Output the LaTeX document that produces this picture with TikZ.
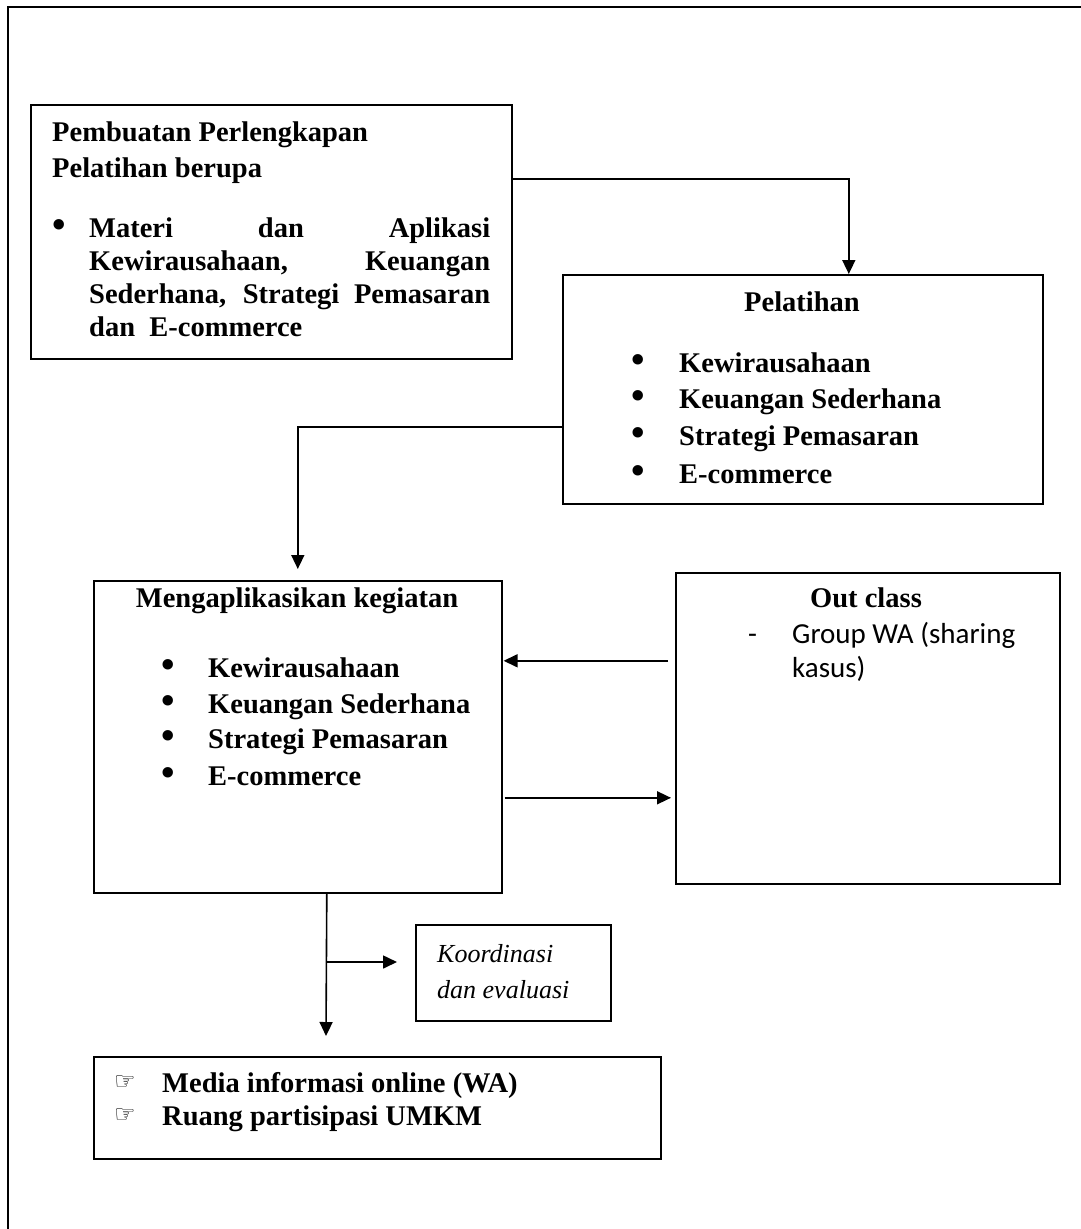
\documentclass[tikz,border=0pt]{standalone}
\usepackage{fontspec}
\setmainfont{Liberation Serif}
\newfontfamily\calfont{Carlito}
\newfontfamily\symfont{DejaVu Sans}
\usetikzlibrary{arrows.meta}
\newcommand{\bul}{\scalebox{1.35}{•}}
\tikzset{
  box/.style={draw, line width=1.6pt, inner sep=0pt, anchor=north west},
  txt/.style={inner sep=0pt, anchor=base west, font=\fontsize{28.5}{33}\selectfont\bfseries},
  ctxt/.style={inner sep=0pt, anchor=base, font=\fontsize{28.5}{33}\selectfont\bfseries},
  arr/.style={line width=1.6pt, -{Triangle[length=14pt,width=13pt]}},
  hand/.style={inner sep=0pt, anchor=base west, font=\fontsize{24}{28}\symfont}
}
\begin{document}
\begin{tikzpicture}[x=1pt,y=-1pt]
\useasboundingbox (0,0) rectangle (1081,1229);
% outer frame (cut off at right and bottom)
\draw[line width=2.4pt] (8,1229) -- (8,7) -- (1081,7);

% boxes
\node[box, minimum width=481pt, minimum height=254pt] (b1) at (30,104) {};
\node[box, minimum width=480pt, minimum height=229pt] (b2) at (562,274) {};
\node[box, minimum width=408pt, minimum height=312pt] (b3) at (93,580) {};
\node[box, minimum width=384pt, minimum height=311pt] (b4) at (675,572) {};
\node[box, minimum width=195pt, minimum height=96pt] (ko) at (415,924) {};
\node[box, minimum width=567pt, minimum height=102pt] (b5) at (93,1056) {};

% box 1 text
\node[txt] (t11) at (52,141) {Pembuatan Perlengkapan};
\node[txt] (t12) at (52,177) {Pelatihan berupa};
\node[txt] (t13) at (52,237) {\bul};
\node[txt] (t14) at (89,237) {\makebox[401pt][s]{Materi dan Aplikasi}};
\node[txt] (t15) at (89,270) {\makebox[401pt][s]{Kewirausahaan, Keuangan}};
\node[txt] (t16) at (89,303) {\makebox[401pt][s]{Sederhana, Strategi Pemasaran}};
\node[txt] (t17) at (89,336) {dan\ \ E-commerce};

% box 2 text
\node[ctxt] (t21) at (802,311) {Pelatihan};
\node[txt] (t22) at (631,372) {\bul};
\node[txt] (t23) at (679,372) {Kewirausahaan};
\node[txt] (t24) at (631,408) {\bul};
\node[txt] (t25) at (679,408) {Keuangan Sederhana};
\node[txt] (t26) at (631,445) {\bul};
\node[txt] (t27) at (679,445) {Strategi Pemasaran};
\node[txt] (t28) at (631,483) {\bul};
\node[txt] (t29) at (679,483) {E-commerce};

% box 3 text
\node[ctxt] (t31) at (297,607) {Mengaplikasikan kegiatan};
\node[txt] (t32) at (161,677) {\bul};
\node[txt] (t33) at (208,677) {Kewirausahaan};
\node[txt] (t34) at (161,713) {\bul};
\node[txt] (t35) at (208,713) {Keuangan Sederhana};
\node[txt] (t36) at (161,748) {\bul};
\node[txt] (t37) at (208,748) {Strategi Pemasaran};
\node[txt] (t38) at (161,785) {\bul};
\node[txt] (t39) at (208,785) {E-commerce};

% box 4 text
\node[txt] (t41) at (810,607) {Out class};
\node[txt, font=\fontsize{29}{34}\calfont] (t42) at (748,643) {-};
\node[txt, font=\fontsize{29}{34}\calfont] (t43) at (792,643) {Group WA (sharing};
\node[txt, font=\fontsize{29}{34}\calfont] (t44) at (792,677) {kasus)};

% koordinasi text
\node[txt, font=\fontsize{26}{30}\selectfont\itshape] (tk1) at (437,962) {Koordinasi};
\node[txt, font=\fontsize{26}{30}\selectfont\itshape] (tk2) at (437,998) {dan evaluasi};

% box 5 text
\node[hand] (t51) at (114,1089) {☞};
\node[txt] (t52) at (162,1092) {Media informasi online (WA)};
\node[hand] (t53) at (114,1122) {☞};
\node[txt] (t54) at (162,1125) {Ruang partisipasi UMKM};

% connectors
\draw[arr] ([yshift=53pt]b1.east) -| ([xshift=46pt]b2.north);
\draw[arr] ([yshift=-37.5pt]b2.west) -| ([yshift=11pt]b3.north);
\draw[arr] ([xshift=-7pt,yshift=67.5pt]b4.west) -- ([xshift=1pt,yshift=76pt]b3.east);
\draw[arr] ([xshift=2pt,yshift=-61pt]b3.east) -- ([xshift=-4pt,yshift=-69.5pt]b4.west);
\coordinate (j) at (326,962);
\coordinate (t5) at (326,1036);
\draw[arr] ([xshift=29pt]b3.south) -- (t5);
\draw[arr] (j) -- ([xshift=-18pt]ko.west |- j);
\end{tikzpicture}
\end{document}
